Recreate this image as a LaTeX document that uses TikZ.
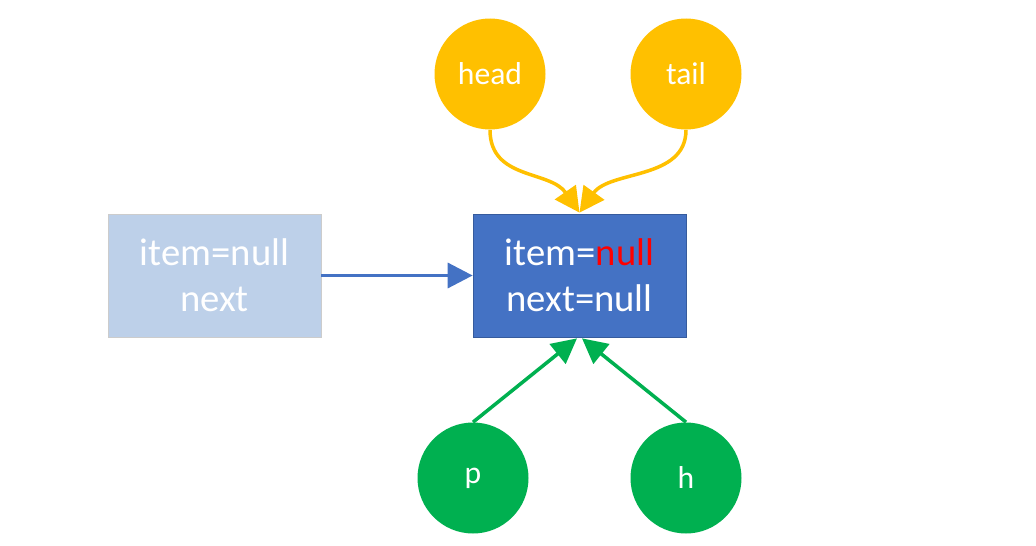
\documentclass[tikz,border=0pt]{standalone}
\usepackage{fontspec}
\setmainfont{Carlito}
\usetikzlibrary{arrows.meta}
\usetikzlibrary{calc}
\definecolor{boxblue}{HTML}{4472C4}
\definecolor{boxlight}{HTML}{BDD0E9}
\definecolor{ptrgold}{HTML}{FFC000}
\definecolor{ptrgreen}{HTML}{00B050}
\tikzset{
	listbox/.style={minimum width=4.26cm, minimum height=2.46cm, align=center, text=white, font=\fontsize{22}{26}\selectfont},
	ptr/.style={circle, minimum size=2.22cm, inner sep=0pt, text=white, font=\fontsize{18}{20}\selectfont},
	link/.style={line width=2pt, -{Triangle[length=0.5cm, width=0.5cm]}},
}
\begin{document}
\begin{tikzpicture}
	\useasboundingbox (0,0) rectangle (20.72,10.9);
	
	\node[listbox, fill=boxlight, draw=gray!40] (old) at (4.29, 5.39) {item=null\\next};
	\node[listbox, fill=boxblue, draw=boxblue!80!black] (cur) at (11.59, 5.39) {item=\textcolor{red}{null}\\next=null};
	
	\node[ptr, fill=ptrgold] (head) at (9.8, 9.42) {head};
	\node[ptr, fill=ptrgold] (tail) at (13.72, 9.42) {tail};
	\node[ptr, fill=ptrgreen] (p) at (9.46, 1.34) {p};
	\node[ptr, fill=ptrgreen] (h) at (13.72, 1.34) {h};
	
	\coordinate (top) at ($(cur.north)+(0,0.02)$);
	\coordinate (botl) at ($(cur.south)+(-0.05,-0.02)$);
	\coordinate (botr) at ($(cur.south)+(0.05,-0.02)$);
	
	\draw[link, boxblue] (old) -- (cur);
	\draw[link, ptrgold] (head.south) .. controls (9.8, 7.3) and (11.0, 7.5) .. (top);
	\draw[link, ptrgold] (tail.south) .. controls (13.72, 7.3) and (12.2, 7.5) .. (top);
	\draw[link, ptrgreen] (p.north) -- (botl);
	\draw[link, ptrgreen] (h.north) -- (botr);
	
\end{tikzpicture}
\end{document}
